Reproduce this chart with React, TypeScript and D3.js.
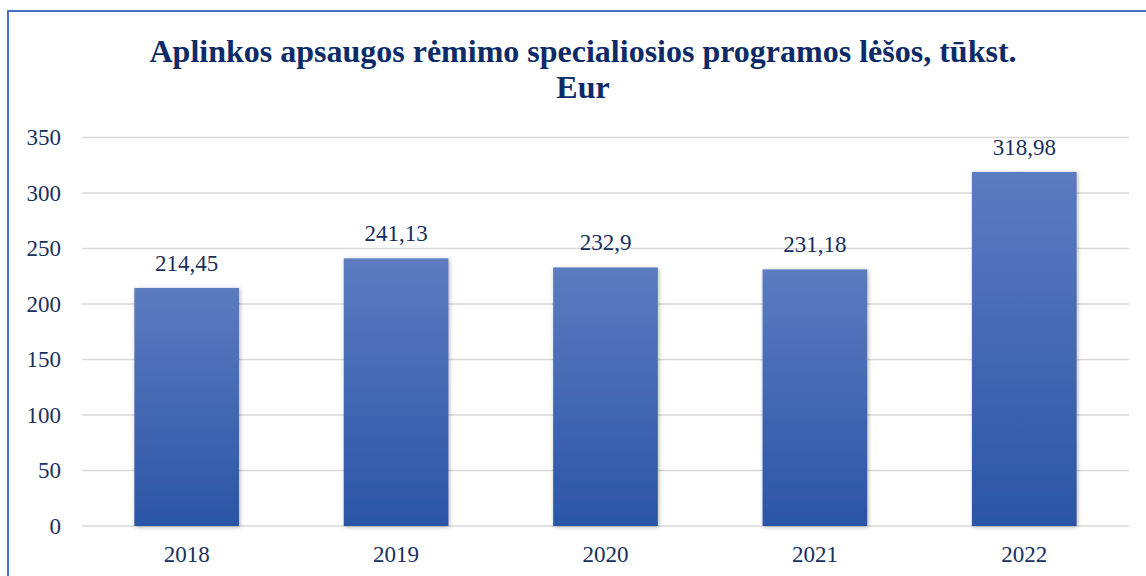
import React from "react";
import * as d3 from "d3";

const categories = ["2018", "2019", "2020", "2021", "2022"];
const values = [214.45, 241.13, 232.9, 231.18, 318.98];
const valueLabels = ["214,45", "241,13", "232,9", "231,18", "318,98"];
const yTicks = [0, 50, 100, 150, 200, 250, 300, 350];
const titleLines = ["Aplinkos apsaugos rėmimo specialiosios programos lėšos, tūkst.", "Eur"];

export default function App() {
  const W = 1146, H = 576;
  const left = 82, right = 1129, top = 137.5, bottom = 526;
  const x = d3.scaleBand<string>().domain(categories).range([left, right]).paddingInner(0.5).paddingOuter(0.25);
  const y = d3.scaleLinear().domain([0, 350]).range([bottom, top]);
  const font = "Liberation Serif";
  const txt = "#17305F";
  const ts = { fontFamily: font };
  return (
    <svg width={W} height={H} style={{ position: "absolute", left: 0, top: 0, background: "#fff" }}>
      <defs>
        <linearGradient id="barGrad" x1="0" y1="0" x2="0" y2="1">
          <stop offset="0" stopColor="#5C7BC0" />
          <stop offset="1" stopColor="#2B55A6" />
        </linearGradient>
        <filter id="sh" x="-10%" y="-5%" width="125%" height="115%">
          <feDropShadow dx="1" dy="1" stdDeviation="2" floodColor="#000" floodOpacity="0.3" />
        </filter>
      </defs>
      <rect x={8} y={11} width={W} height={H} fill="none" stroke="#4472C4" strokeWidth={2} />
      <text x={583} textAnchor="middle" fill="#0D2B68" fontWeight="bold" fontSize={32} style={ts}>
        {titleLines.map((l, i) => (
          <tspan key={i} x={583} y={62 + i * 36}>{l}</tspan>
        ))}
      </text>
      {yTicks.map((t) => (
        <g key={t}>
          <line x1={left} x2={right} y1={y(t)} y2={y(t)} stroke="#D9D9D9" strokeWidth={1.5} />
          <text x={61} y={y(t)} dy="0.34em" textAnchor="end" fontSize={23} fill={txt} style={ts}>{t}</text>
        </g>
      ))}
      {categories.map((c, i) => (
        <g key={c}>
          <rect x={x(c)} y={y(values[i])} width={x.bandwidth()} height={bottom - y(values[i])} fill="url(#barGrad)" filter="url(#sh)" />
          <text x={x(c)! + x.bandwidth() / 2} y={y(values[i]) - 17} textAnchor="middle" fontSize={23} fill={txt} style={ts}>{valueLabels[i]}</text>
          <text x={x(c)! + x.bandwidth() / 2} y={562} textAnchor="middle" fontSize={23} fill={txt} style={ts}>{c}</text>
        </g>
      ))}
    </svg>
  );
}
